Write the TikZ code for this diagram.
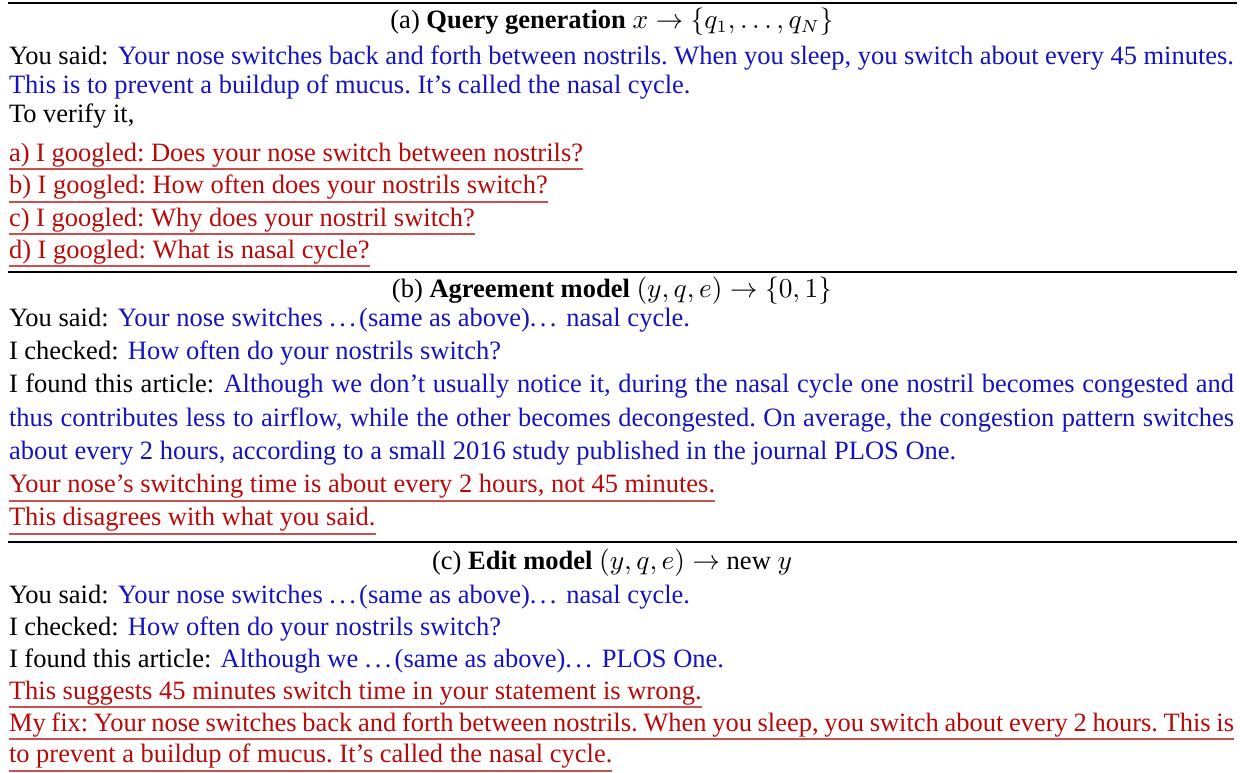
\documentclass[tikz,border=0pt]{standalone}
\usepackage{fontspec}
\setmainfont{Liberation Serif}
\definecolor{qblue}{RGB}{20,20,190}
\definecolor{qred}{RGB}{185,10,10}
\definecolor{ulred}{RGB}{205,80,80}
% a line of text stretched to the full column width
\newcommand\jline[1]{\makebox[490pt][s]{#1}}
\newcommand\bl[1]{\textcolor{qblue}{#1}}
% spaced text ellipsis
\newcommand\tdots{.\kern\fontdimen3\font.\kern\fontdimen3\font.\kern\fontdimen3\font}
% gap after a speaker prefix
\newcommand\pgap{\hspace{0.35em}}
\begin{document}
\begin{tikzpicture}[x=0.4pt,y=-0.4pt,
  every node/.style={inner sep=0pt,outer sep=0pt,font=\fontsize{10.6}{12.7}\selectfont\frenchspacing},
  txt/.style={anchor=base west},
  head/.style={anchor=base},
  redtxt/.style={anchor=base west,text=qred},
  uline/.style={draw=ulred,line width=0.75pt},
  thickrule/.style={draw=black,line width=1.1pt},
  thinrule/.style={draw=black,line width=0.6pt}]
\useasboundingbox (0,0) rectangle (1240,773);

% ---- rules between the three panels
\coordinate (r0l) at (8,3);   \coordinate (r0r) at (1237,3);
\coordinate (r1l) at (8,272); \coordinate (r1r) at (1237,272);
\coordinate (r2l) at (8,542); \coordinate (r2r) at (1237,542);
\draw[thickrule] (r0l) -- (r0r);
\draw[thinrule] (r1l) -- (r1r);
\draw[thinrule] (r2l) -- (r2r);

% ---- (a) query generation
\node[head] (ha) at (612,28) {(a) \textbf{Query generation} $x \rightarrow \{q_1, \ldots, q_N\}$};
\node[txt] (a1) at (9,64) {\jline{You said:\pgap\bl{Your nose switches back and forth between nostrils. When you sleep, you switch about every 45 minutes.}}};
\node[txt] (a2) at (9,93) {\bl{This is to prevent a buildup of mucus. It’s called the nasal cycle.}};
\node[txt] (a3) at (9,122) {To verify it,};
\node[redtxt] (qa) at (9,161) {a) I googled: Does your nose switch between nostrils?};
\node[redtxt] (qb) at (9,193.5) {b) I googled: How often does your nostrils switch?};
\node[redtxt] (qc) at (9,226) {c) I googled: Why does your nostril switch?};
\node[redtxt] (qd) at (9,258) {d) I googled: What is nasal cycle?};
\foreach \n in {qa,qb,qc,qd}
  \draw[uline] ([yshift=-3.3pt]\n.base west) -- ([yshift=-3.3pt]\n.base east);

% ---- (b) agreement model
\node[head] (hb) at (612,297) {(b) \textbf{Agreement model} $(y, q, e) \rightarrow \{0, 1\}$};
\node[txt] (b1) at (9,326.2) {You said:\pgap\bl{Your nose switches \tdots(same as above)\tdots{} nasal cycle.}};
\node[txt] (b2) at (9,359.4) {I checked:\pgap\bl{How often do your nostrils switch?}};
\node[txt] (b3) at (9,392.6) {\jline{I found this article:\pgap\bl{Although we don’t usually notice it, during the nasal cycle one nostril becomes congested and}}};
\node[txt] (b4) at (9,426) {\jline{\bl{thus contributes less to airflow, while the other becomes decongested. On average, the congestion pattern switches}}};
\node[txt] (b5) at (9,459.2) {\bl{about every 2 hours, according to a small 2016 study published in the journal PLOS One.}};
\node[redtxt] (b6) at (9,492.6) {Your nose’s switching time is about every 2 hours, not 45 minutes.};
\node[redtxt] (b7) at (9,525.4) {This disagrees with what you said.};
\foreach \n in {b6,b7}
  \draw[uline] ([yshift=-3.3pt]\n.base west) -- ([yshift=-3.3pt]\n.base east);

% ---- (c) edit model
\node[head] (hc) at (612,569) {(c) \textbf{Edit model} $(y, q, e) \rightarrow$ new $y$};
\node[txt] (c1) at (9,603) {You said:\pgap\bl{Your nose switches \tdots(same as above)\tdots{} nasal cycle.}};
\node[txt] (c2) at (9,635) {I checked:\pgap\bl{How often do your nostrils switch?}};
\node[txt] (c3) at (9,667) {I found this article:\pgap\bl{Although we \tdots(same as above)\tdots{} PLOS One.}};
\node[redtxt] (c4) at (9,699) {This suggests 45 minutes switch time in your statement is wrong.};
\node[redtxt] (c5) at (9,731) {\jline{My fix: Your nose switches back and forth between nostrils. When you sleep, you switch about every 2 hours. This is}};
\node[redtxt] (c6) at (9,762.5) {to prevent a buildup of mucus. It’s called the nasal cycle.};
\foreach \n in {c4,c5,c6}
  \draw[uline] ([yshift=-3.3pt]\n.base west) -- ([yshift=-3.3pt]\n.base east);
\end{tikzpicture}
\end{document}
